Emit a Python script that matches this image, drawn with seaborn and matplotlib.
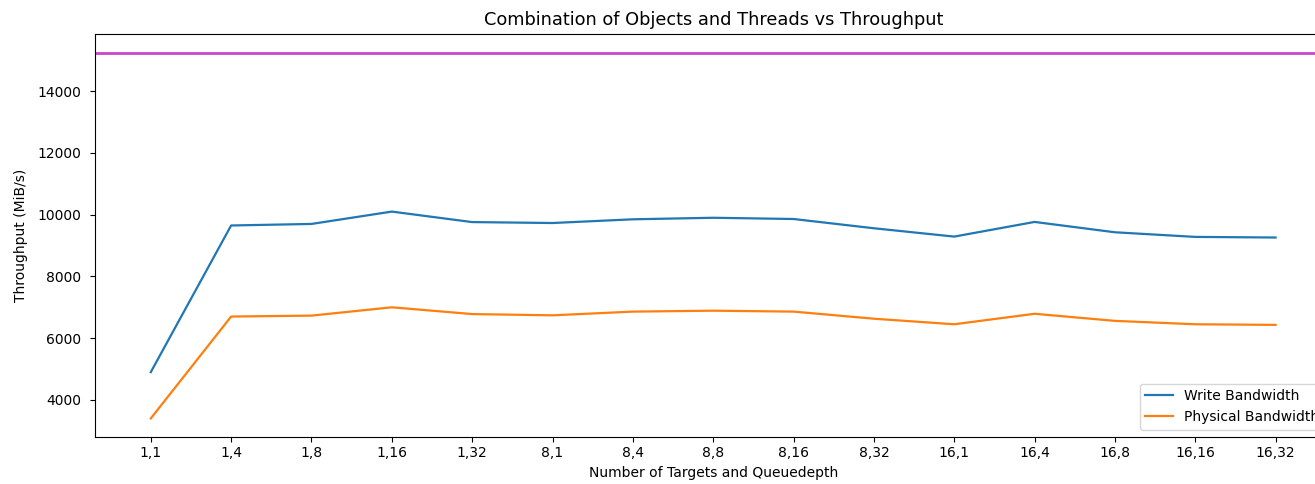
import pandas as pd
import matplotlib
matplotlib.use("Agg")
import matplotlib.pyplot as plt
import seaborn as sns

# targets,queuedepth combinations
combos = ["1,1", "1,4", "1,8", "1,16", "1,32",
          "8,1", "8,4", "8,8", "8,16", "8,32",
          "16,1", "16,4", "16,8", "16,16", "16,32"]
write_bw = [4900, 9650, 9700, 10100, 9760,
            9730, 9850, 9900, 9860, 9560,
            9290, 9765, 9430, 9280, 9260]
physical_bw = [3400, 6700, 6730, 7000, 6780,
               6740, 6860, 6890, 6860, 6630,
               6450, 6790, 6560, 6450, 6430]
max_bw = 15250

df = pd.concat([
    pd.DataFrame({"combo": combos, "bw": write_bw, "kind": "Write Bandwidth"}),
    pd.DataFrame({"combo": combos, "bw": physical_bw, "kind": "Physical Bandwidth"}),
])

plt.rcParams.update({"font.size": 10, "font.family": ["DejaVu Sans"]})

fig = plt.figure(figsize=(13.15, 4.84), dpi=100)
# axes runs off the right edge, like the cropped original
ax = fig.add_axes([0.0719, 0.0977, 0.9409, 0.8314])

sns.lineplot(data=df, x="combo", y="bw", hue="kind", sort=False,
             palette=["#1f77b4", "#ff7f0e"], linewidth=1.6, ax=ax)
ax.axhline(max_bw, color="#cc44cc", linewidth=2)

ax.set_title("Combination of Objects and Threads vs Throughput", fontsize=12.8, pad=7)
ax.set_xlabel("Number of Targets and Queuedepth")
ax.set_ylabel("Throughput (MiB/s)", labelpad=7)
ax.tick_params(axis="y", pad=6)
ax.legend(loc="lower right", title=None)

fig.savefig("out.png", dpi=100)
